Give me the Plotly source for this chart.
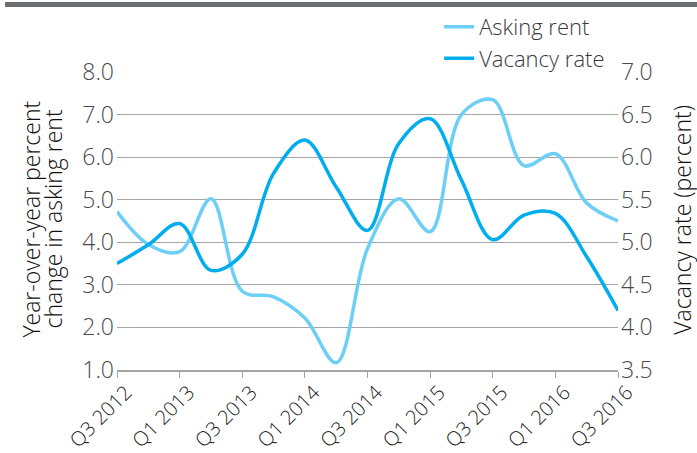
import plotly.graph_objects as go

# Quarterly periods, Q3 2012 through Q3 2016
quarters = ["Q3 2012", "Q4 2012", "Q1 2013", "Q2 2013", "Q3 2013", "Q4 2013",
            "Q1 2014", "Q2 2014", "Q3 2014", "Q4 2014", "Q1 2015", "Q2 2015",
            "Q3 2015", "Q4 2015", "Q1 2016", "Q2 2016", "Q3 2016"]

# Year-over-year percent change in asking rent (left axis)
asking_rent = [4.72, 3.95, 3.78, 5.02, 2.85, 2.72, 2.22, 1.17, 3.85, 5.02,
               4.25, 7.00, 7.35, 5.80, 6.08, 4.92, 4.50]

# Vacancy rate in percent (right axis)
vacancy_rate = [4.75, 4.97, 5.22, 4.67, 4.86, 5.81, 6.20, 5.65, 5.14, 6.16,
                6.45, 5.73, 5.03, 5.32, 5.34, 4.83, 4.20]

# Every second quarter gets a tick label
tick_idx = list(range(0, len(quarters), 2))
tick_text = [quarters[i] for i in tick_idx]

LIGHT = "#6dcff6"
DARK = "#00aeef"
TEXT = "#3a3a3c"
GRID = "#a5a5a8"
FONT = "Open Sans"

x = list(range(len(quarters)))

fig = go.Figure()
fig.add_trace(go.Scatter(
    x=x, y=asking_rent, name="Asking rent", mode="lines",
    line=dict(color=LIGHT, width=3.5, shape="spline", smoothing=1.0),
    yaxis="y",
))
fig.add_trace(go.Scatter(
    x=x, y=vacancy_rate, name="Vacancy rate", mode="lines",
    line=dict(color=DARK, width=3.5, shape="spline", smoothing=1.0),
    yaxis="y2",
))

fig.update_layout(
    width=697, height=453,
    margin=dict(l=117, r=79, t=72, b=83, autoexpand=False),
    paper_bgcolor="white", plot_bgcolor="white",
    font=dict(family=FONT, color=TEXT, size=20, weight=300),
    showlegend=True,
    legend=dict(
        x=0.643, y=1.222, xanchor="left", yanchor="top",
        bgcolor="rgba(0,0,0,0)", font=dict(size=22, color=TEXT, weight=300),
        itemwidth=30, tracegroupgap=0, traceorder="normal",
    ),
    xaxis=dict(
        range=[0, len(quarters) - 1], automargin=False,
        tickmode="array", tickvals=tick_idx, ticktext=tick_text,
        tickangle=-45, tickfont=dict(size=20, color="#222222", weight=300),
        ticklabelshift=9, ticklabelstandoff=-5,
        showgrid=False, zeroline=False,
        showline=True, linecolor=GRID, linewidth=1.5,
        ticks="outside", ticklen=6, tickcolor=GRID, tickwidth=1,
    ),
    yaxis=dict(
        range=[1, 8], dtick=1, tick0=1, tickformat=".1f", automargin=False,
        showgrid=True, gridcolor=GRID, gridwidth=1.2,
        zeroline=False, showline=False, ticks="",
        tickfont=dict(size=23, color="#4a4a4c", weight=300),
        ticklabelstandoff=2,
    ),
    yaxis2=dict(
        range=[3.5, 7.0], dtick=0.5, tick0=3.5, tickformat=".1f",
        overlaying="y", side="right", automargin=False,
        showgrid=False, zeroline=False, showline=False, ticks="",
        tickfont=dict(size=23, color="#4a4a4c", weight=300),
        ticklabelstandoff=2,
    ),
    shapes=[
        # dark rule across the top of the page
        dict(type="rect", xref="paper", yref="paper",
             x0=-0.2234, x1=1.16, y0=1.218, y1=1.235,
             fillcolor="#6d6e71", line=dict(width=0), layer="above"),
    ],
    annotations=[
        dict(text="Year-over-year percent",
             xref="paper", yref="paper", x=-0.1735, y=0.505,
             xanchor="center", yanchor="middle", textangle=-90,
             showarrow=False, font=dict(size=23, color="#111111", weight=300)),
        dict(text="change in asking rent",
             xref="paper", yref="paper", x=-0.1297, y=0.505,
             xanchor="center", yanchor="middle", textangle=-90,
             showarrow=False, font=dict(size=23, color="#111111", weight=300)),
        dict(text="Vacancy rate (percent)",
             xref="paper", yref="paper", x=1.127, y=0.503,
             xanchor="center", yanchor="middle", textangle=-90,
             showarrow=False, font=dict(size=23, color="#111111", weight=300)),
    ],
)

fig.write_html("out.html")
